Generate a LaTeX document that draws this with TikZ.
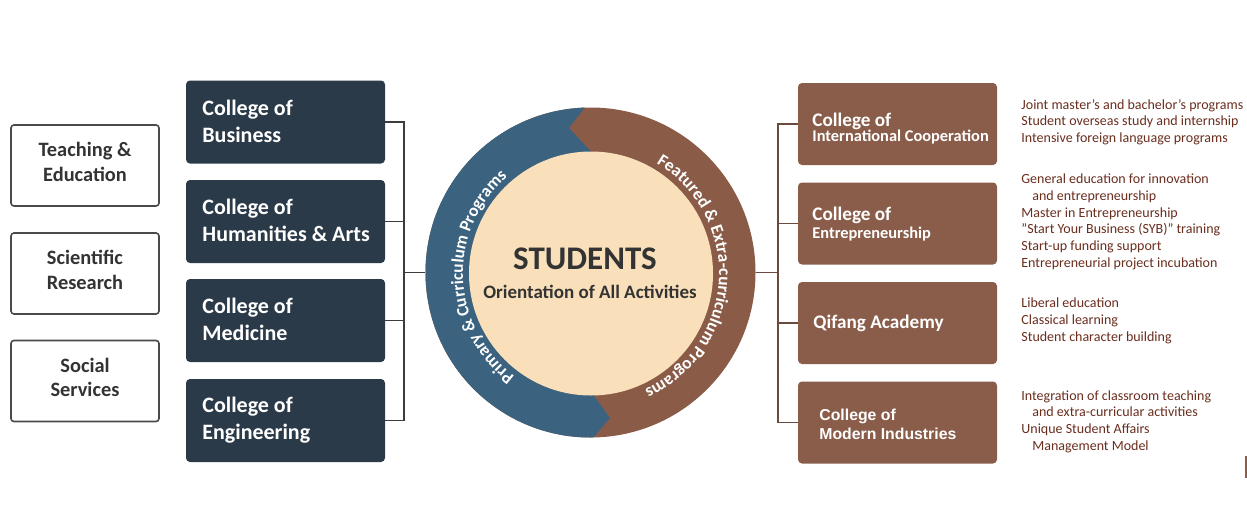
\documentclass[tikz,border=0pt]{standalone}
\usepackage{fontspec}
\setmainfont{Carlito}
\newfontfamily\arialfont{Liberation Sans}
\usetikzlibrary{decorations.text}
\definecolor{navy}{HTML}{2B3A49}
\definecolor{boxbrown}{HTML}{8A5D4A}
\definecolor{ringblue}{HTML}{3B6380}
\definecolor{ringbrown}{HTML}{8A5C48}
\definecolor{beige}{HTML}{FAE0BA}
\definecolor{txtdark}{HTML}{333333}
\definecolor{notebrown}{HTML}{6A2E1F}
\definecolor{wborder}{HTML}{4A4A4A}
\definecolor{lline}{HTML}{3C3C3C}
\definecolor{rline}{HTML}{6B4A3E}
\begin{document}
\begin{tikzpicture}[x=0.5pt,y=-0.5pt,
  wbox/.style={draw=wborder, line width=0.8pt, fill=white, rounded corners=1.5pt, minimum width=74pt, minimum height=40.5pt, inner sep=0pt},
  dbox/.style={fill=navy, rounded corners=2pt, minimum width=99.5pt, minimum height=41.5pt, inner sep=0pt},
  bbox/.style={fill=boxbrown, rounded corners=2pt, minimum width=99.5pt, minimum height=41pt, inner sep=0pt},
  wtext/.style={anchor=base, inner sep=0pt, font=\bfseries\fontsize{10.2}{12}\selectfont, text=txtdark},
  dtext/.style={anchor=base west, inner sep=0pt, font=\bfseries\fontsize{11}{13}\selectfont, text=white},
  rtitle/.style={anchor=base west, inner sep=0pt, font=\bfseries\fontsize{9.6}{12}\selectfont, text=white},
  rsub/.style={anchor=base west, inner sep=0pt, font=\bfseries\fontsize{8.2}{10}\selectfont, text=white},
  atext/.style={anchor=base west, inner sep=0pt, font=\arialfont\bfseries\fontsize{7.9}{9.5}\selectfont, text=white},
  note/.style={anchor=base west, inner sep=0pt, font=\fontsize{7}{8.5}\selectfont, text=notebrown},
  lconn/.style={draw=lline, line width=0.75pt},
  rconn/.style={draw=rline, line width=0.75pt},
]
\fill[white] (0,0) rectangle (1247,530);
\useasboundingbox (0,0) rectangle (1247,530);

% ---- central ring ----
\coordinate (C) at (590.5,272.5);
\coordinate (Ci) at (591,273.5);
\node[circle, fill=ringbrown, minimum size=165pt, inner sep=0pt] (ring) at (C) {};
\begin{scope}
  \clip (C) circle[radius=165];
  \fill[ringblue] (380,80) -- (605,81) -- (569,128) -- (596,157) -- (590,390) -- (610,418) -- (584.5,448) -- (380,448) -- cycle;
\end{scope}
\node[circle, fill=beige, minimum size=122pt, inner sep=0pt] (core) at (Ci) {};
\node[anchor=base, inner sep=0pt, font=\bfseries\fontsize{16.5}{19}\selectfont, text=txtdark] (stu) at (585,269) {STUDENTS};
\node[anchor=base, inner sep=0pt, font=\bfseries\fontsize{9.5}{11}\selectfont, text=txtdark] (ori) at (590,298) {Orientation of All Activities};

\path[decorate, decoration={text along path, text={|\bfseries\fontsize{8.7}{10}\selectfont|Primary {\&} Curriculum Programs}, text color=white, text align=center}]
  (Ci) ++(100:128) arc[start angle=100, end angle=256, radius=128];
\path[decorate, decoration={text along path, text={|\bfseries\fontsize{8.7}{10}\selectfont|Featured {\&} Extra-curriculum Programs}, text color=white, text align=center}]
  (Ci) ++(288:128) arc[start angle=288, end angle=438, radius=128];

% ---- left white boxes ----
\node[wbox] (w1) at (85,165.5) {};
\node[wbox] (w2) at (85,273.5) {};
\node[wbox] (w3) at (85,381) {};
\node[wtext] (w1a) at (85,156) {Teaching \&};
\node[wtext] (w1b) at (85,181) {Education};
\node[wtext] (w2a) at (85,264) {Scientific};
\node[wtext] (w2b) at (85,289) {Research};
\node[wtext] (w3a) at (85,372) {Social};
\node[wtext] (w3b) at (85,396.5) {Services};

% ---- dark college boxes ----
\node[dbox] (b1) at (285.5,122) {};
\node[dbox] (b2) at (285.5,221.5) {};
\node[dbox] (b3) at (285.5,320.5) {};
\node[dbox] (b4) at (285.5,420.5) {};
\node[dtext] (b1a) at (202,115.5) {College of};
\node[dtext] (b1b) at (202,142.5) {Business};
\node[dtext] (b2a) at (202,214) {College of};
\node[dtext] (b2b) at (202,241) {Humanities \& Arts};
\node[dtext] (b3a) at (202,313) {College of};
\node[dtext] (b3b) at (202,340.5) {Medicine};
\node[dtext] (b4a) at (202,412.5) {College of};
\node[dtext] (b4b) at (202,439.5) {Engineering};

% ---- right brown boxes ----
\node[bbox] (c1) at (897.5,124) {};
\node[bbox] (c2) at (897.5,223.5) {};
\node[bbox] (c3) at (897.5,323) {};
\node[bbox] (c4) at (897.5,422.5) {};
\node[rtitle] (c1a) at (812,126) {College of};
\node[rsub] (c1b) at (812,141) {International Cooperation};
\node[rtitle] (c2a) at (812,220.7) {College of};
\node[rsub] (c2b) at (812,238) {Entrepreneurship};
\node[rtitle] (c3a) at (813,328.3) {Qifang Academy};
\node[atext] (c4a) at (819,420.7) {College of};
\node[atext] (c4b) at (819,439.3) {Modern Industries};

% ---- connectors ----
\coordinate (jL) at (404,272.5);
\coordinate (jR) at (778,272.5);
\draw[lconn] (b1.east) -| (jL);
\draw[lconn] (b2.east) -| (jL);
\draw[lconn] (b3.east) -| (jL);
\draw[lconn] (b4.east) -| (jL);
\draw[lconn] (jL) -- (ring.west);
\draw[rconn] (c1.west) -| (jR);
\draw[rconn] (c2.west) -| (jR);
\draw[rconn] (c3.west) -| (jR);
\draw[rconn] (c4.west) -| (jR);
\draw[rconn] (ring.east) -- (jR);

% ---- notes ----
\node[note] (n1) at (1021,109.3) {Joint master's and bachelor's programs};
\node[note] (n2) at (1021,125.8) {Student overseas study and internship};
\node[note] (n3) at (1021,142.3) {Intensive foreign language programs};
\node[note] (n4) at (1021,183.5) {General education for innovation};
\node[note] (n5) at (1032,200.3) {and entrepreneurship};
\node[note] (n6) at (1021,217) {Master in Entrepreneurship};
\node[note] (n7) at (1021,233.8) {"Start Your Business (SYB)" training};
\node[note] (n8) at (1021,250.6) {Start-up funding support};
\node[note] (n9) at (1021,267.4) {Entrepreneurial project incubation};
\node[note] (n10) at (1021,307.5) {Liberal education};
\node[note] (n11) at (1021,324.3) {Classical learning};
\node[note] (n12) at (1021,341) {Student character building};
\node[note] (n13) at (1021,400) {Integration of classroom teaching};
\node[note] (n14) at (1032,416.7) {and extra-curricular activities};
\node[note] (n15) at (1021,433.3) {Unique Student Affairs};
\node[note] (n16) at (1032,450) {Management Model};

\fill[boxbrown] (1244.5,456) rectangle (1247,478);
\end{tikzpicture}
\end{document}
